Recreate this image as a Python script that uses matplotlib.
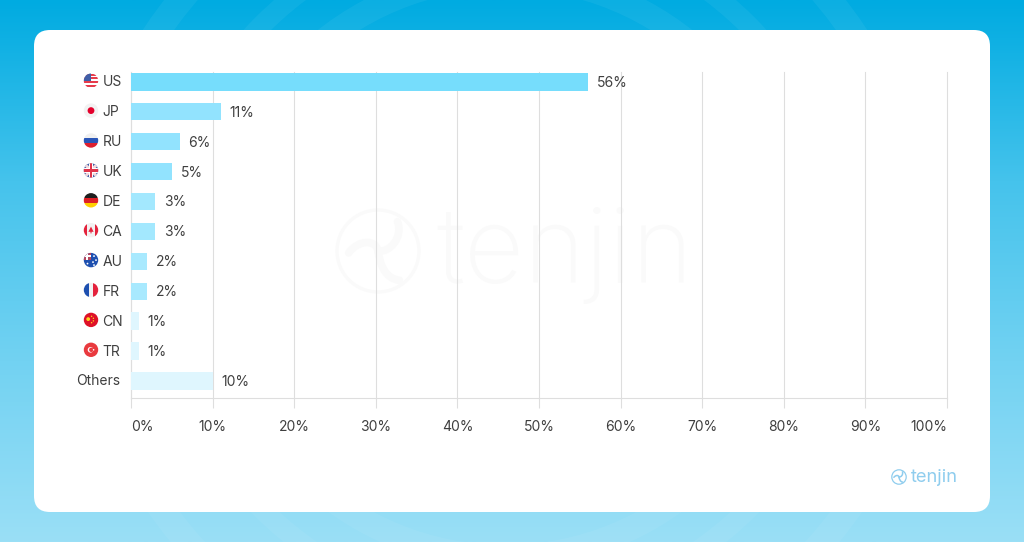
import numpy as np
import matplotlib
matplotlib.use("Agg")
import matplotlib.pyplot as plt
from matplotlib.patches import FancyBboxPatch, Circle, Rectangle, Polygon, PathPatch
from matplotlib.path import Path
from matplotlib.colors import LinearSegmentedColormap
from matplotlib.transforms import ScaledTranslation

categories = ["US", "JP", "RU", "UK", "DE", "CA", "AU", "FR", "CN", "TR", "Others"]
values = [56, 11, 6, 5, 3, 3, 2, 2, 1, 1, 10]
bar_colors = ["#76DDFC", "#92E3FE", "#92E3FE", "#92E3FE", "#A3E8FE", "#A3E8FE",
              "#A8E9FE", "#A8E9FE", "#DFF6FE", "#DFF6FE", "#DFF6FE"]
x_ticks = [0, 10, 20, 30, 40, 50, 60, 70, 80, 90, 100]

W, H = 1024, 542
plt.rcParams["font.family"] = ["Inter", "DejaVu Sans"]
fig = plt.figure(figsize=(W / 100, H / 100), dpi=100)

bg = fig.add_axes([0, 0, 1, 1], zorder=0)
bg.set_xlim(0, W); bg.set_ylim(H, 0); bg.axis("off")
cmap = LinearSegmentedColormap.from_list("bg", ["#00ABE1", "#45C3EC", "#72D2F2", "#9ADFF6"])
bg.imshow(np.linspace(0, 1, 256)[:, None], cmap=cmap, extent=(0, W, H, 0), aspect="auto", zorder=0)
bg.set_xlim(0, W); bg.set_ylim(H, 0)
for r, wpx in ((290, 24), (343, 20), (420, 26)):
    bg.add_patch(Circle((505, 267), r, fill=False, ec="white", alpha=0.05, lw=wpx * 0.72, zorder=1))
bg.add_patch(FancyBboxPatch((34, 30), 956, 482, boxstyle="round,pad=0,rounding_size=16",
                            lw=0, fc="white", zorder=2))

def logo(cx, cy, r, color, lw, z, bw):
    """ring with three curved blades meeting at the hub"""
    bg.add_patch(Circle((cx, cy), r, fill=False, ec=color, lw=lw, zorder=z))
    s = r / 42.0
    blades = [
        [(-30, 2), (-20, -12), (-2, -12), (0, 0)],
        [(20, -30), (26, -14), (12, 2), (0, 0)],
        [(22, 30), (6, 28), (2, 12), (0, 0)],
    ]
    for b in blades:
        pts = [(cx + x * s, cy + y * s) for x, y in b]
        bg.add_patch(PathPatch(Path(pts, [Path.MOVETO, Path.CURVE4, Path.CURVE4, Path.CURVE4]),
                               fill=False, ec=color, lw=bw, capstyle="round", zorder=z))

logo(378, 251, 41, "#FAFAFA", 2.4, 3, 5.5)
bg.text(436, 255, "tenjin", fontsize=75, color="#FAFAFA", va="center", ha="left",
        fontweight="light", zorder=3)
logo(899, 477, 7.2, "#8FCDEE", 0.9, 6, 1.1)
bg.text(911, 477, "tenjin", fontsize=13.2, color="#8FCDEE", va="center", ha="left", zorder=6)

ax = fig.add_axes([131 / W, 1 - 398 / H, (947 - 131) / W, (398 - 72) / H], zorder=2)
ax.patch.set_alpha(0)
y = np.arange(len(categories))
ax.barh(y, values, height=0.58, color=bar_colors, zorder=3)
ax.set_xlim(0, 100)
ax.set_ylim(len(categories) - 1 + 0.57, -0.33)
ax.set_xticks(x_ticks)
ax.set_xticklabels([f"{t}%" for t in x_ticks], fontsize=10, color="#3F3F3F")
ax.set_yticks(y)
ax.set_yticklabels(categories, fontsize=10, color="#3F3F3F")
ax.tick_params(axis="y", length=0, pad=8)
ax.tick_params(axis="x", length=7.2, width=0.8, color="#DEDEDE", pad=8.5)
tl = ax.get_xticklabels()
tl[0].set_ha("left"); tl[-1].set_ha("right")
up = ScaledTranslation(0, 1 / 100, fig.dpi_scale_trans)
yticks = ax.yaxis.get_major_ticks()
for tick, name in zip(yticks, categories):
    if name != "Others":
        tick.set_pad(20.5)
        tick.label1.set_ha("left")
    tick.label1.set_transform(tick.label1.get_transform() + up)
ax.grid(axis="x", color="#DEDEDE", lw=0.8, zorder=1)
for gl in ax.get_xgridlines():
    gl.set_clip_on(False)
for s in ("top", "right"):
    ax.spines[s].set_visible(False)
for s in ("left", "bottom"):
    ax.spines[s].set_color("#DEDEDE"); ax.spines[s].set_linewidth(0.8)
for yi, v in zip(y, values):
    ax.annotate(f"{v}%", (v, yi), xytext=(6.2, -0.7), textcoords="offset points", va="center",
                fontsize=10, color="#3F3F3F", zorder=4)

FX = 91
FR = 7.2
def flag(row, draw):
    cy = 80.7 + row * 29.9
    clip = Circle((FX, cy), FR, transform=bg.transData)
    def add(p):
        bg.add_patch(p); p.set_zorder(7); p.set_clip_path(clip); return p
    draw(FX, cy, add)

def rect(x0, y0, w, h, c):
    return Rectangle((x0, y0), w, h, fc=c, lw=0)

def f_us(x, y, add):
    add(rect(x - 8, y - 8, 16, 16, "white"))
    for i in range(4):
        add(rect(x - 8, y - 7 + i * 3.7, 16, 1.9, "#E63B4B"))
    add(rect(x - 8, y - 8, 8, 8, "#3F5FA8"))

def f_jp(x, y, add):
    add(rect(x - 8, y - 8, 16, 16, "#F2F2F2"))
    add(Circle((x, y), 3.4, fc="#E4002B", lw=0))

def f_ru(x, y, add):
    add(rect(x - 8, y - 8, 16, 5.6, "#F0F0F0"))
    add(rect(x - 8, y - 2.4, 16, 4.8, "#2A56B8"))
    add(rect(x - 8, y + 2.4, 16, 5.6, "#DE1F2F"))

def f_uk(x, y, add):
    add(rect(x - 8, y - 8, 16, 16, "#3F5FA8"))
    for a in (45, -45):
        add(Rectangle((x - 11, y - 1.5), 22, 3, angle=a, rotation_point="center", fc="#F4D9DC", lw=0))
    add(rect(x - 2.4, y - 8, 4.8, 16, "white"))
    add(rect(x - 8, y - 2.4, 16, 4.8, "white"))
    add(rect(x - 1.2, y - 8, 2.4, 16, "#E0354B"))
    add(rect(x - 8, y - 1.2, 16, 2.4, "#E0354B"))

def f_de(x, y, add):
    add(rect(x - 8, y - 8, 16, 5.6, "#1E1E1E"))
    add(rect(x - 8, y - 2.4, 16, 4.8, "#DD1F26"))
    add(rect(x - 8, y + 2.4, 16, 5.6, "#FFCE00"))

def f_ca(x, y, add):
    add(rect(x - 8, y - 8, 16, 16, "#F2F2F2"))
    add(rect(x - 8, y - 8, 4.2, 16, "#E4223C"))
    add(rect(x + 3.8, y - 8, 4.2, 16, "#E4223C"))
    add(Polygon([(x, y - 3.6), (x + 2.6, y + 1.6), (x + 0.5, y + 1.6), (x + 0.5, y + 3.2),
                 (x - 0.5, y + 3.2), (x - 0.5, y + 1.6), (x - 2.6, y + 1.6)], fc="#E4223C", lw=0))

def f_au(x, y, add):
    add(rect(x - 8, y - 8, 16, 16, "#1E50B0"))
    add(rect(x - 8, y - 8, 7.5, 7.5, "#B5475F"))
    add(rect(x - 5, y - 8, 1.6, 7.5, "white"))
    add(rect(x - 8, y - 5, 7.5, 1.6, "white"))
    for dx, dy in ((3, -4), (5, 0), (2, 2), (3, 5), (-3.5, 3.5)):
        add(Circle((x + dx, y + dy), 0.9, fc="white", lw=0))

def f_fr(x, y, add):
    add(rect(x - 8, y - 8, 5.6, 16, "#1E50B0"))
    add(rect(x - 2.4, y - 8, 4.8, 16, "#F2F2F2"))
    add(rect(x + 2.4, y - 8, 5.6, 16, "#E4223C"))

def f_cn(x, y, add):
    add(rect(x - 8, y - 8, 16, 16, "#DE1128"))
    add(Circle((x - 2.8, y - 0.8), 1.9, fc="#FFD21F", lw=0))
    for dx, dy in ((0.6, -3.6), (2.4, -1.6), (2.4, 1), (0.6, 2.8)):
        add(Circle((x + dx, y + dy), 0.7, fc="#FFD21F", lw=0))

def f_tr(x, y, add):
    add(rect(x - 8, y - 8, 16, 16, "#E93A3F"))
    add(Circle((x - 0.5, y), 2.8, fc="white", lw=0))
    add(Circle((x + 0.3, y), 2.2, fc="#E93A3F", lw=0))
    add(Circle((x + 2.6, y), 0.8, fc="white", lw=0))

for i, f in enumerate((f_us, f_jp, f_ru, f_uk, f_de, f_ca, f_au, f_fr, f_cn, f_tr)):
    flag(i, f)

fig.savefig("out.png", dpi=100)
